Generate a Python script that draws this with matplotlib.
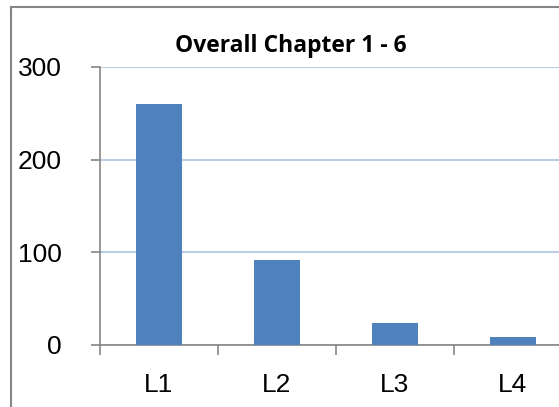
import matplotlib.pyplot as plt
import numpy as np
from matplotlib.lines import Line2D

categories = ["L1", "L2", "L3", "L4"]
values = [260, 92, 24, 9]
y_ticks = [0, 100, 200, 300]
title = "Overall Chapter 1 - 6"

plt.rcParams["font.family"] = ["Liberation Sans", "DejaVu Sans"]

fig = plt.figure(figsize=(5.59, 4.07), dpi=100)
ax = fig.add_axes([100 / 559, 62 / 407, 472 / 559, 278 / 407])
ax.set_axisbelow(True)

x = np.arange(len(categories))
ax.bar(x, values, width=0.39, color="#4F81BD", zorder=3)

ax.set_xlim(-0.5, len(categories) - 0.5)
ax.set_ylim(0, 300)
ax.set_yticks(y_ticks)
ax.set_yticklabels([str(t) for t in y_ticks], fontsize=19)
ax.set_xticks(x)
ax.set_xticklabels(categories, fontsize=19)
ax.set_xticks(np.arange(-0.5, len(categories)), minor=True)

ax.grid(axis="y", color="#B9CDE5", linewidth=1.5)
ax.tick_params(axis="y", direction="out", length=6.5, width=1.2, color="#868686", pad=21)
ax.tick_params(axis="x", which="major", length=0, pad=20)
ax.tick_params(axis="x", which="minor", direction="out", length=7, width=1.2, color="#868686")

for side in ["top", "right"]:
    ax.spines[side].set_visible(False)
for side in ["left", "bottom"]:
    ax.spines[side].set_edgecolor("#868686")
    ax.spines[side].set_linewidth(1.2)

fig.text(291 / 559, 1 - 46 / 407, title, ha="center", va="center", fontsize=16.5,
         fontweight="bold", family=["Open Sans", "DejaVu Sans"])

# chart border (left and top edges visible)
fig.add_artist(Line2D([11 / 559, 11 / 559], [0, 1 - 7 / 407], color="#868686", linewidth=1.5))
fig.add_artist(Line2D([11 / 559, 1], [1 - 7 / 407, 1 - 7 / 407], color="#868686", linewidth=1.5))

fig.savefig("out.png", dpi=100)
